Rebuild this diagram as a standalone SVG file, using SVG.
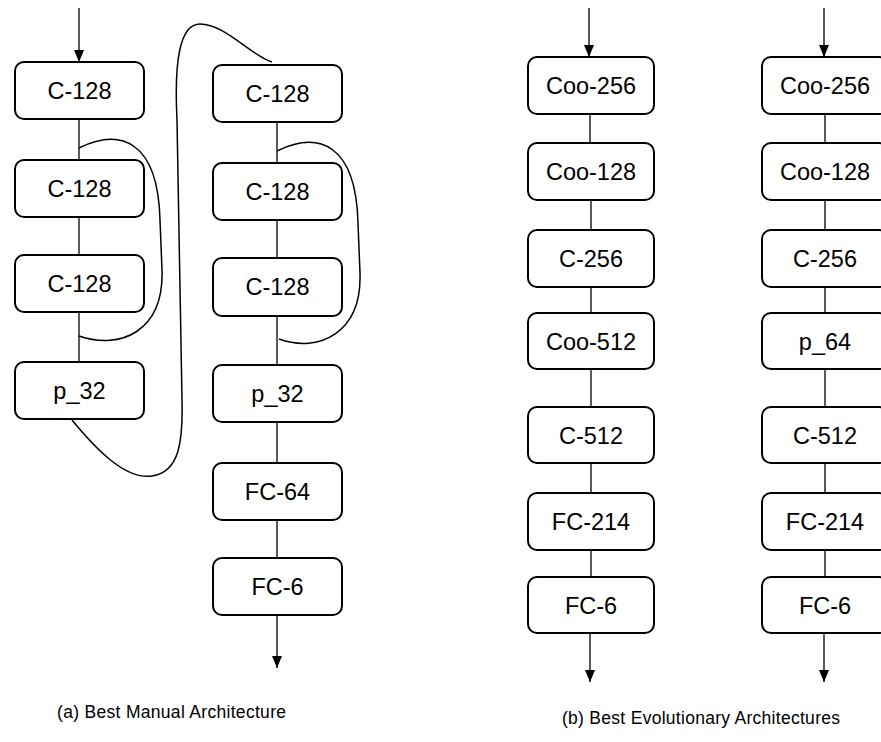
<svg xmlns="http://www.w3.org/2000/svg" width="881" height="742" viewBox="0 0 881 742">
<style>
.box{fill:#fff;stroke:#000;stroke-width:2}
.lbl{font-family:"Liberation Sans",Arial,sans-serif;font-size:23.5px;text-anchor:middle;fill:#000}
.cap{font-family:"Liberation Sans",Arial,sans-serif;font-size:17.5px;fill:#000}
.ln{stroke:#000;stroke-width:1.3;fill:none}
.cv{stroke:#000;stroke-width:1.5;fill:none}
</style>
<defs>
<marker id="dn" markerWidth="10" markerHeight="12" refX="5" refY="12" orient="0" markerUnits="userSpaceOnUse" viewBox="0 0 10 12">
<path d="M0,0 L10,0 L5,12 Z" fill="#000"/>
</marker>
</defs>
<g id="connectors">
<line class="ln" x1="79" y1="8" x2="79" y2="62" marker-end="url(#dn)"/>
<line class="ln" x1="79" y1="119" x2="79" y2="160"/>
<line class="ln" x1="79" y1="217" x2="79" y2="255"/>
<line class="ln" x1="79" y1="312" x2="79" y2="362"/>
<path class="cv" d="M79 148 C120 128,158 140,160 220 L162 270 C164 332,120 350,79 336"/>
<path class="cv" d="M72 420 C95 448,125 480,152 476 C180 472,183 440,182 400 L177 120 C174 60,180 24,200 24 C225 24,250 55,272 62"/>
<line class="ln" x1="277" y1="122" x2="277" y2="163"/>
<line class="ln" x1="277" y1="220" x2="277" y2="258"/>
<line class="ln" x1="277" y1="316" x2="277" y2="365"/>
<line class="ln" x1="277" y1="422" x2="277" y2="463"/>
<line class="ln" x1="277" y1="520" x2="277" y2="558"/>
<line class="ln" x1="277" y1="615" x2="277" y2="668" marker-end="url(#dn)"/>
<path class="cv" d="M277 151 C318 131,356 143,358 223 L360 273 C362 334,318 353,279 339"/>
<line class="ln" x1="589" y1="8" x2="589" y2="57" marker-end="url(#dn)"/>
<line class="ln" x1="590" y1="114" x2="590" y2="143"/>
<line class="ln" x1="591" y1="200" x2="591" y2="230"/>
<line class="ln" x1="591" y1="287" x2="591" y2="313"/>
<line class="ln" x1="591" y1="369" x2="591" y2="407"/>
<line class="ln" x1="591" y1="463" x2="591" y2="493"/>
<line class="ln" x1="591" y1="550" x2="591" y2="577"/>
<line class="ln" x1="590" y1="633" x2="590" y2="682" marker-end="url(#dn)"/>
<line class="ln" x1="824" y1="8" x2="824" y2="57" marker-end="url(#dn)"/>
<line class="ln" x1="825" y1="114" x2="825" y2="143"/>
<line class="ln" x1="825" y1="200" x2="825" y2="230"/>
<line class="ln" x1="825" y1="287" x2="825" y2="313"/>
<line class="ln" x1="825" y1="369" x2="825" y2="407"/>
<line class="ln" x1="825" y1="463" x2="825" y2="493"/>
<line class="ln" x1="825" y1="550" x2="825" y2="577"/>
<line class="ln" x1="824" y1="633" x2="824" y2="682" marker-end="url(#dn)"/>
</g>
<g id="a1-n1"><rect class="box" x="15" y="62" width="129" height="57" rx="9"/><text class="lbl" x="79.5" y="99">C-128</text></g>
<g id="a1-n2"><rect class="box" x="15" y="160" width="129" height="57" rx="9"/><text class="lbl" x="79.5" y="197">C-128</text></g>
<g id="a1-n3"><rect class="box" x="15" y="255" width="129" height="57" rx="9"/><text class="lbl" x="79.5" y="292">C-128</text></g>
<g id="a1-n4"><rect class="box" x="15" y="362" width="129" height="57" rx="9"/><text class="lbl" x="79.5" y="399">p_32</text></g>
<g id="a2-n1"><rect class="box" x="213" y="65" width="129" height="57" rx="9"/><text class="lbl" x="277.5" y="102">C-128</text></g>
<g id="a2-n2"><rect class="box" x="213" y="163" width="129" height="57" rx="9"/><text class="lbl" x="277.5" y="200">C-128</text></g>
<g id="a2-n3"><rect class="box" x="213" y="258" width="129" height="58" rx="9"/><text class="lbl" x="277.5" y="295">C-128</text></g>
<g id="a2-n4"><rect class="box" x="213" y="365" width="129" height="57" rx="9"/><text class="lbl" x="277.5" y="402">p_32</text></g>
<g id="a2-n5"><rect class="box" x="213" y="463" width="129" height="57" rx="9"/><text class="lbl" x="277.5" y="500">FC-64</text></g>
<g id="a2-n6"><rect class="box" x="213" y="558" width="129" height="57" rx="9"/><text class="lbl" x="277.5" y="595">FC-6</text></g>
<g id="b1-n1"><rect class="box" x="528" y="57" width="126" height="57" rx="9"/><text class="lbl" x="591" y="94">Coo-256</text></g>
<g id="b1-n2"><rect class="box" x="528" y="143" width="126" height="57" rx="9"/><text class="lbl" x="591" y="180">Coo-128</text></g>
<g id="b1-n3"><rect class="box" x="528" y="230" width="126" height="57" rx="9"/><text class="lbl" x="591" y="267">C-256</text></g>
<g id="b1-n4"><rect class="box" x="528" y="313" width="126" height="56" rx="9"/><text class="lbl" x="591" y="349.5">Coo-512</text></g>
<g id="b1-n5"><rect class="box" x="528" y="407" width="126" height="56" rx="9"/><text class="lbl" x="591" y="443.5">C-512</text></g>
<g id="b1-n6"><rect class="box" x="528" y="493" width="126" height="57" rx="9"/><text class="lbl" x="591" y="530">FC-214</text></g>
<g id="b1-n7"><rect class="box" x="528" y="577" width="126" height="56" rx="9"/><text class="lbl" x="591" y="613.5">FC-6</text></g>
<g id="b2-n1"><rect class="box" x="762" y="57" width="126" height="57" rx="9"/><text class="lbl" x="825" y="94">Coo-256</text></g>
<g id="b2-n2"><rect class="box" x="762" y="143" width="126" height="57" rx="9"/><text class="lbl" x="825" y="180">Coo-128</text></g>
<g id="b2-n3"><rect class="box" x="762" y="230" width="126" height="57" rx="9"/><text class="lbl" x="825" y="267">C-256</text></g>
<g id="b2-n4"><rect class="box" x="762" y="313" width="126" height="56" rx="9"/><text class="lbl" x="825" y="349.5">p_64</text></g>
<g id="b2-n5"><rect class="box" x="762" y="407" width="126" height="56" rx="9"/><text class="lbl" x="825" y="443.5">C-512</text></g>
<g id="b2-n6"><rect class="box" x="762" y="493" width="126" height="57" rx="9"/><text class="lbl" x="825" y="530">FC-214</text></g>
<g id="b2-n7"><rect class="box" x="762" y="577" width="126" height="56" rx="9"/><text class="lbl" x="825" y="613.5">FC-6</text></g>
<g id="captions">
<text class="cap" x="57" y="718" textLength="229">(a) Best Manual  Architecture</text>
<text class="cap" x="562" y="724" textLength="278">(b) Best Evolutionary Architectures</text>
</g>
</svg>
